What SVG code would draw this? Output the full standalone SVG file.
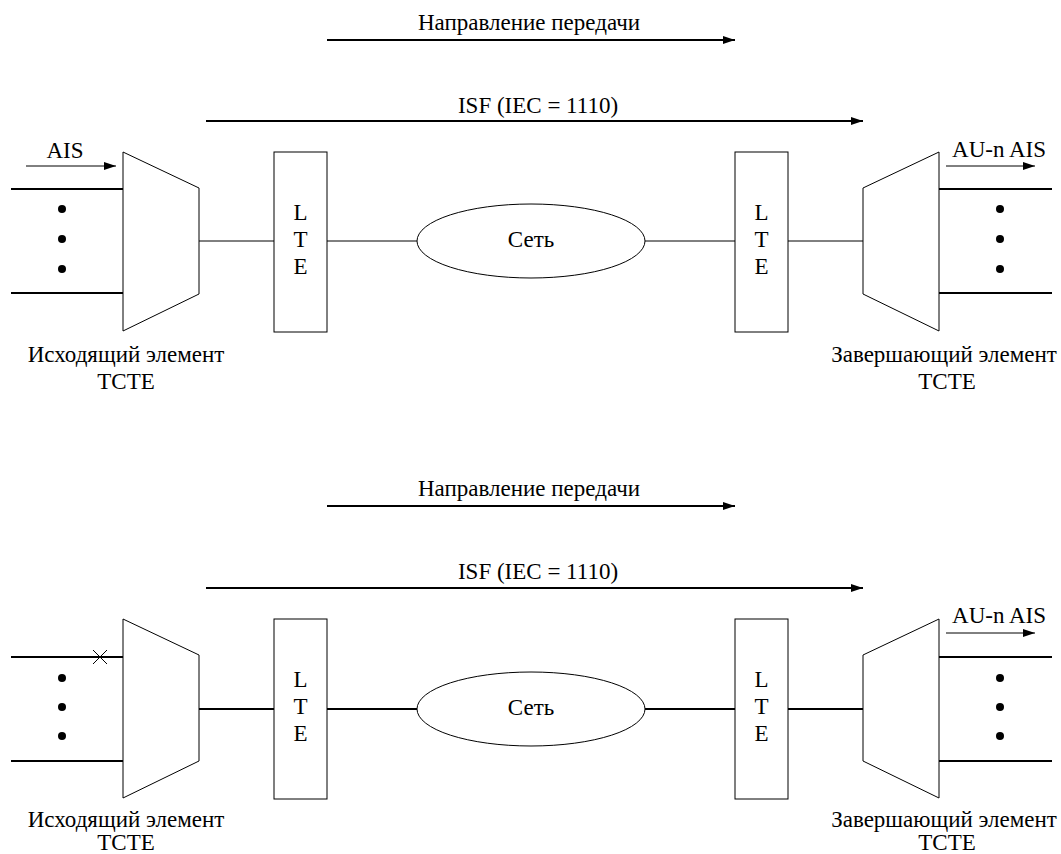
<svg xmlns="http://www.w3.org/2000/svg" width="1061" height="854" viewBox="0 0 1061 854" font-family="Liberation Serif, Times New Roman, serif">
<style>
text{font-size:23px;fill:#000}
.m{text-anchor:middle}
.thin{stroke:#000;stroke-width:1;fill:none}
.thick{stroke:#000;stroke-width:2;fill:none}
.box{stroke:#000;stroke-width:1;fill:#fff}
</style>
<defs>
<marker id="ah" viewBox="0 0 12 8" refX="12" refY="4" markerWidth="12" markerHeight="8" markerUnits="userSpaceOnUse" orient="auto">
<path d="M0,0 L12,4 L0,8 z" fill="#000"/>
</marker>
</defs>

<g id="connectors">
<line class="thick" x1="327" y1="40" x2="735" y2="40" marker-end="url(#ah)"/>
<line class="thick" x1="206" y1="121" x2="863" y2="121" marker-end="url(#ah)"/>
<line class="thin" x1="26" y1="166" x2="116" y2="166" stroke-width="1.5" marker-end="url(#ah)"/>
<line class="thin" x1="946" y1="166" x2="1035" y2="166" stroke-width="1.5" marker-end="url(#ah)"/>
<line class="thick" x1="11" y1="189" x2="123" y2="189"/>
<line class="thick" x1="11" y1="293" x2="123" y2="293"/>
<line class="thick" x1="939" y1="189" x2="1052" y2="189"/>
<line class="thick" x1="939" y1="293" x2="1052" y2="293"/>
<line class="thin" x1="199" y1="241" x2="274" y2="241"/>
<line class="thin" x1="327" y1="241" x2="417" y2="241"/>
<line class="thin" x1="645" y1="241" x2="735" y2="241"/>
<line class="thin" x1="788" y1="241" x2="863" y2="241"/>
<line class="thick" x1="327" y1="506" x2="735" y2="506" marker-end="url(#ah)"/>
<line class="thick" x1="206" y1="588" x2="863" y2="588" marker-end="url(#ah)"/>
<line class="thin" x1="946" y1="633" x2="1035" y2="633" stroke-width="1.5" marker-end="url(#ah)"/>
<line class="thick" x1="11" y1="657" x2="123" y2="657"/>
<line class="thick" x1="11" y1="761" x2="123" y2="761"/>
<line class="thick" x1="939" y1="657" x2="1052" y2="657"/>
<line class="thick" x1="939" y1="761" x2="1052" y2="761"/>
<line class="thick" x1="199" y1="709" x2="274" y2="709"/>
<line class="thick" x1="327" y1="709" x2="417" y2="709"/>
<line class="thick" x1="645" y1="709" x2="735" y2="709"/>
<line class="thick" x1="788" y1="709" x2="863" y2="709"/>
<path class="thin" stroke-width="1.5" d="M93,650 L107,664 M93,664 L107,650"/>
</g>

<g id="labels-top">
<text class="m" x="529" y="30">Направление передачи</text>
<text class="m" x="538" y="113">ISF (IEC = 1110)</text>
<text class="m" x="65" y="158">AIS</text>
<text class="m" x="999" y="157">AU-n AIS</text>
</g>

<g id="src1">
<polygon class="box" points="123,152 199,188 199,294 123,331"/>
<circle cx="62" cy="209" r="4"/>
<circle cx="62" cy="239" r="4"/>
<circle cx="62" cy="269" r="4"/>
<text class="m" x="126" y="362">Исходящий элемент</text>
<text class="m" x="126" y="389">TCTE</text>
</g>

<g id="lte1a">
<rect class="box" x="274" y="152" width="53" height="180"/>
<text class="m" x="300.5" y="220">L</text>
<text class="m" x="300.5" y="247">T</text>
<text class="m" x="300.5" y="274">E</text>
</g>

<g id="net1">
<ellipse class="box" cx="531" cy="241" rx="114" ry="37"/>
<text class="m" x="531" y="247">Сеть</text>
</g>

<g id="lte1b">
<rect class="box" x="735" y="152" width="53" height="180"/>
<text class="m" x="761.5" y="220">L</text>
<text class="m" x="761.5" y="247">T</text>
<text class="m" x="761.5" y="274">E</text>
</g>

<g id="dst1">
<polygon class="box" points="863,188 939,152 939,331 863,294"/>
<circle cx="1000" cy="209" r="4"/>
<circle cx="1000" cy="239" r="4"/>
<circle cx="1000" cy="269" r="4"/>
<text class="m" x="944" y="362">Завершающий элемент</text>
<text class="m" x="947" y="389">TCTE</text>
</g>

<g id="labels-bottom">
<text class="m" x="529" y="496">Направление передачи</text>
<text class="m" x="538" y="579">ISF (IEC = 1110)</text>
<text class="m" x="999" y="623">AU-n AIS</text>
</g>

<g id="src2">
<polygon class="box" points="123,619 199,655 199,761 123,798"/>
<circle cx="62" cy="678" r="4"/>
<circle cx="62" cy="707" r="4"/>
<circle cx="62" cy="736" r="4"/>
<text class="m" x="126" y="827">Исходящий элемент</text>
<text class="m" x="126" y="850">TCTE</text>
</g>

<g id="lte2a">
<rect class="box" x="274" y="619" width="53" height="180"/>
<text class="m" x="300.5" y="687">L</text>
<text class="m" x="300.5" y="714">T</text>
<text class="m" x="300.5" y="741">E</text>
</g>

<g id="net2">
<ellipse class="box" cx="531" cy="709" rx="114" ry="37"/>
<text class="m" x="531" y="715">Сеть</text>
</g>

<g id="lte2b">
<rect class="box" x="735" y="619" width="53" height="180"/>
<text class="m" x="761.5" y="687">L</text>
<text class="m" x="761.5" y="714">T</text>
<text class="m" x="761.5" y="741">E</text>
</g>

<g id="dst2">
<polygon class="box" points="863,655 939,619 939,798 863,761"/>
<circle cx="1000" cy="678" r="4"/>
<circle cx="1000" cy="707" r="4"/>
<circle cx="1000" cy="736" r="4"/>
<text class="m" x="944" y="827">Завершающий элемент</text>
<text class="m" x="947" y="850">TCTE</text>
</g>
</svg>
